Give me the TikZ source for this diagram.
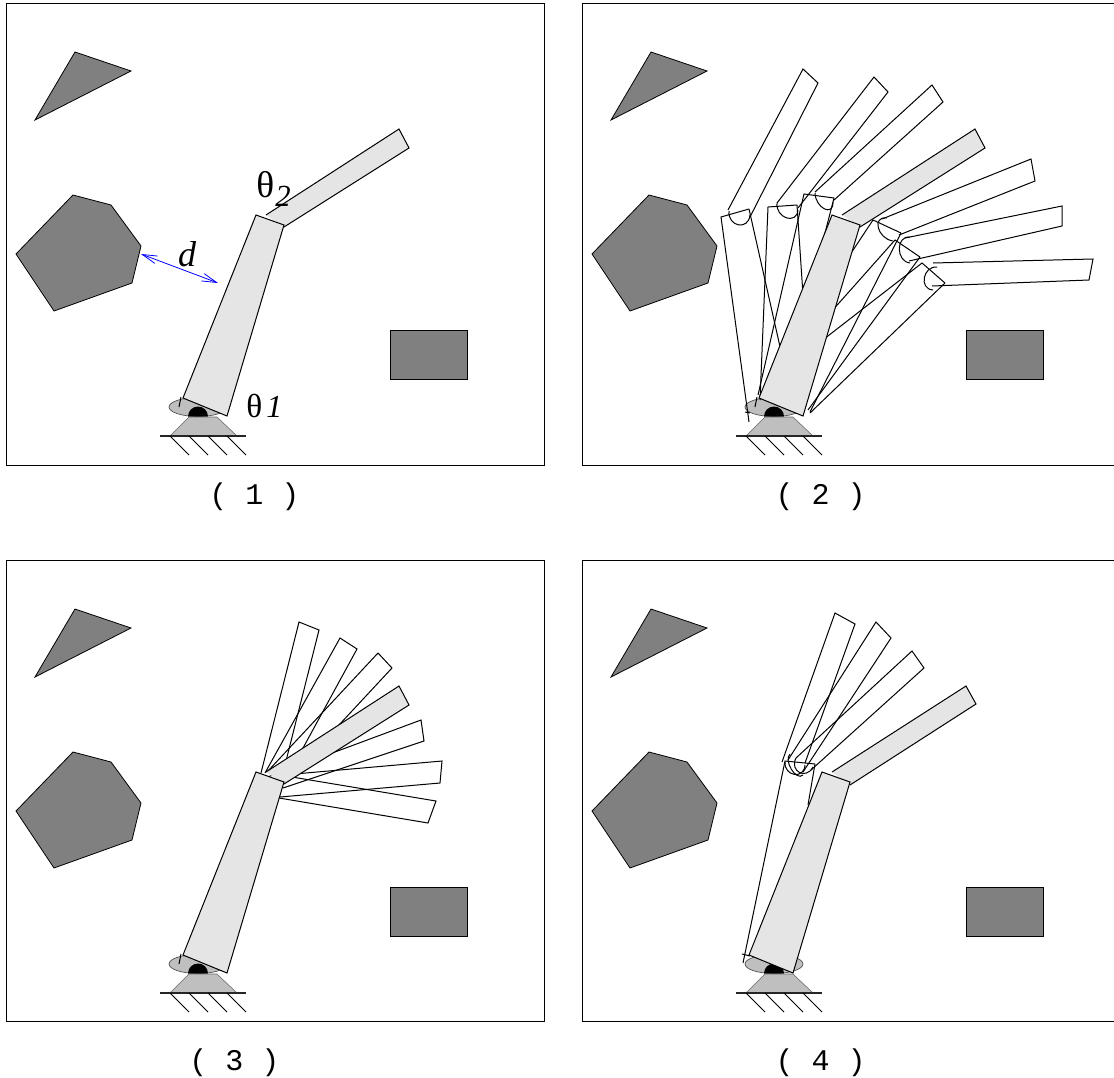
\documentclass[tikz,border=0pt]{standalone}
\usepackage{fontspec}
\setmainfont{Liberation Serif}
\setmonofont{Liberation Mono}
\usetikzlibrary{calc,arrows.meta}
\tikzset{
  frame/.style={draw=black,line width=0.75pt},
  obstacle/.style={draw=black,fill=black!50,line width=0.6pt},
  linkgray/.style={draw=black,fill=black!10,line width=0.75pt,line join=miter},
  ghost/.style={draw=black,line width=0.75pt},
  basepart/.style={fill=black!25},
  caption/.style={font=\ttfamily\fontsize{22.5}{26}\selectfont,inner sep=0pt,anchor=center},
  dist/.style={draw=blue,line width=0.6pt,{Straight Barb[length=11pt,width=9pt,angle'=30]}-{Straight Barb[length=11pt,width=9pt,angle'=30]}}
}
% semicircular joint: start, end, bulge point
\newcommand\jointarc[3]{\draw[ghost] (#1) .. controls ($(#1)+1.333*(#3)-0.667*(#1)-0.667*(#2)$) and ($(#2)+1.333*(#3)-0.667*(#1)-0.667*(#2)$) .. (#2);}
% obstacles and base: x offset, y offset
\newcommand\sceneback[2]{%
  \begin{scope}[shift={(#1,#2)}]
    \draw[obstacle] (75,52)--(131,71)--(35,120)--cycle;
    \draw[obstacle] (73,195)--(111,205)--(141,246)--(132,283)--(54,311)--(16,254)--cycle;
    \draw[obstacle] (390,330) rectangle (467,379);
    \draw[draw=black!70,fill=black!25,line width=0.5pt] (198,407) ellipse [x radius=29,y radius=9.5];
    \fill[black] (188,416.5) arc[start angle=180,end angle=360,radius=10] -- cycle;
    \draw[basepart,draw=black!60,line width=0.4pt] (189,417)--(217,417)--(237,436)--(170,436)--cycle;
    \draw[line width=0.9pt,black!85] (160,436)--(246,436);
    \foreach \h in {170,189,208,227}{\draw[line width=0.7pt] (\h,436)--++(19,19);}
  \end{scope}}
\begin{document}
\begin{tikzpicture}[x=0.75pt,y=-0.75pt]
\useasboundingbox (0,0) rectangle (1114,1078);
% frames
\draw[frame] (6,3) rectangle (544,465);
\draw[frame] (6,560) rectangle (544,1021);
\draw[frame] (1114,3)--(582,3)--(582,465)--(1114,465);
\draw[frame] (1114,560)--(582,560)--(582,1021)--(1114,1021);
\sceneback{0}{0}
\sceneback{576}{0}
\sceneback{0}{557}
\sceneback{576}{557}

% ---------- panel 1
\filldraw[linkgray] (266,215)--(399,129)--(409,148)--(284,227);
\filldraw[linkgray] (256,215)--(284,225)--(227,416)--(183,398)--cycle;
\draw[ghost] (181,397)--(179,407);
\draw[dist] (141,254)--(218,283);
\node[inner sep=0pt,font=\fontsize{27}{28}\selectfont\itshape] (dlab) at (187,254) {d};
\node[inner sep=0pt,anchor=base west,font=\fontsize{28}{30}\selectfont] (t2) at (256,197) {θ};
\node[inner sep=0pt,anchor=base west,font=\fontsize{23}{24}\selectfont\itshape] (t2s) at (275,206) {2};
\node[inner sep=0pt,anchor=base west,font=\fontsize{25}{28}\selectfont] (t1) at (246,417) {θ};
\node[inner sep=0pt,anchor=base west,font=\fontsize{24}{26}\selectfont\itshape] (t1s) at (266,417) {1};

% ---------- panel 2: proximal ghosts
\draw[ghost] (749,209)--(721,217)--(749,422);
\draw[ghost] (749,209)--(792,400);
\draw[ghost] (745,412)--(750,413);
\draw[ghost] (797,205)--(768,207)--(760,400);
\draw[ghost] (797,205)--(806,340);
\draw[ghost] (834,198)--(804,194)--(758,395);
\draw[ghost] (834,198)--(800,330);
\draw[ghost] (901,233)--(873,220)--(820,300);
\draw[ghost] (901,233)--(810,412);
\draw[ghost] (920,257)--(895,240)--(815,330);
\draw[ghost] (920,257)--(808,410);
\draw[ghost] (945,283)--(922,263)--(815,346);
\draw[ghost] (945,283)--(810,413);
% panel 2: distal ghosts
\draw[ghost] (728,210)--(803,69)--(818,83)--(750,217);
\jointarc{729,211}{750,215}{739,225}
\draw[ghost] (777,203)--(874,77)--(888,92)--(798,208);
\jointarc{777,203}{798,210}{787,218}
\draw[ghost] (815,192)--(932,85)--(943,102)--(834,200);
\jointarc{815,193}{833,202}{825,209}
\draw[ghost] (882,219)--(1031,159)--(1035,181)--(899,235);
\jointarc{887,218}{893,241}{879,228}
\draw[ghost] (905,238)--(1062,206)--(1062,226)--(909,261);
\jointarc{910,237}{910,263}{900,249}
\draw[ghost] (933,263)--(1093,259)--(1089,280)--(932,286);
\jointarc{937,267}{933,290}{925,278}
% panel 2: grey pose
\filldraw[linkgray] (842,215)--(975,129)--(985,148)--(860,227);
\filldraw[linkgray] (832,215)--(860,225)--(803,416)--(759,398)--cycle;
\draw[ghost] (757,397)--(755,407);

% ---------- panel 3 ghosts
\draw[ghost] (261,773)--(299,622)--(319,630)--(285,765);
\draw[ghost] (265,773)--(340,638)--(357,649)--(285,781);
\draw[ghost] (267,772)--(378,653)--(392,668)--(285,783);
\draw[ghost] (265,778)--(421,720)--(424,741)--(283,788);
\draw[ghost] (283,775)--(442,761)--(440,783)--(280,797);
\draw[ghost] (280,775)--(436,801)--(428,823)--(279,798);
\filldraw[linkgray] (266,772)--(399,686)--(409,705)--(284,784);
\filldraw[linkgray] (256,772)--(284,782)--(227,973)--(183,955)--cycle;
\draw[ghost] (181,954)--(179,964);

% ---------- panel 4 ghosts
\draw[ghost] (815,764)--(785,761)--(743,963);
\draw[ghost] (815,764)--(808,805);
\draw[ghost] (742,954)--(750,956);
\draw[ghost] (782,762)--(835,613)--(855,624)--(805,763);
\jointarc{785,762}{805,765}{795,775}
\draw[ghost] (788,760)--(876,622)--(891,638)--(803,772);
\jointarc{790,754}{803,775}{792,770}
\draw[ghost] (796,758)--(912,651)--(924,668)--(811,770);
\jointarc{796,758}{813,767}{800,773}
\filldraw[linkgray] (832,772)--(966,686)--(976,704)--(850,785);
\filldraw[linkgray] (822,772)--(850,782)--(793,973)--(749,955)--cycle;

% captions
\node[caption] (c1) at (254.5,497) {(~1~)};
\node[caption] (c2) at (820.5,497) {(~2~)};
\node[caption] (c3) at (234.5,1063) {(~3~)};
\node[caption] (c4) at (820.5,1063) {(~4~)};
\end{tikzpicture}
\end{document}
